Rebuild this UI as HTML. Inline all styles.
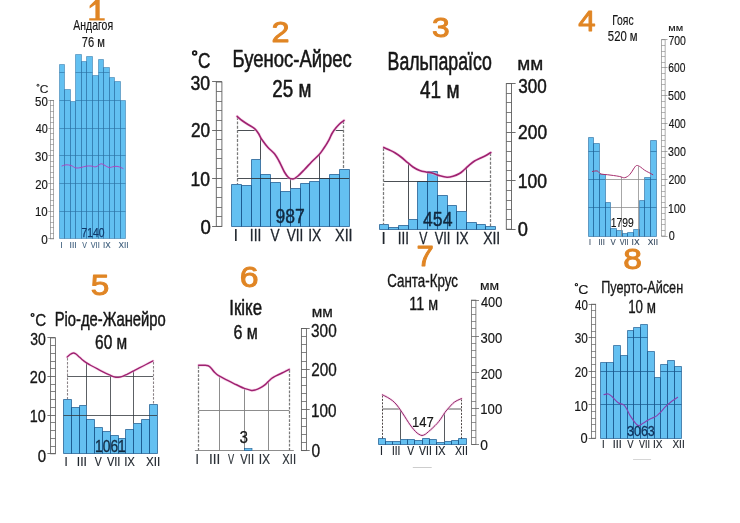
<!DOCTYPE html>
<html><head><meta charset="utf-8"><title>Climate diagrams</title>
<style>
html,body{margin:0;padding:0;background:#ffffff;}
body{width:740px;height:523px;overflow:hidden;font-family:"Liberation Sans",sans-serif;}
svg{display:block;font-family:"Liberation Sans",sans-serif;will-change:transform;}
</style></head><body>
<svg width="740" height="523" viewBox="0 0 740 523">
<rect width="740" height="523" fill="#ffffff"/>
<polygon points="59.5,238.5 59.5,64.5 64.5,64.5 64.5,89.5 70.5,89.5 70.5,101.5 75.5,101.5 75.5,54.5 81.5,54.5 81.5,61.5 86.5,61.5 86.5,56.5 92.5,56.5 92.5,75.5 98.5,75.5 98.5,59.5 103.5,59.5 103.5,67.5 109.5,67.5 109.5,77.5 114.5,77.5 114.5,81.5 120.5,81.5 120.5,100.5 125.5,100.5 125.5,238.5" fill="#62c0f1"/>
<path d="M59.5,238.5 V64.5 H64.5 V238.5 M64.5,238.5 V89.5 H70.5 V238.5 M70.5,238.5 V101.5 H75.5 V238.5 M75.5,238.5 V54.5 H81.5 V238.5 M81.5,238.5 V61.5 H86.5 V238.5 M86.5,238.5 V56.5 H92.5 V238.5 M92.5,238.5 V75.5 H98.5 V238.5 M98.5,238.5 V59.5 H103.5 V238.5 M103.5,238.5 V67.5 H109.5 V238.5 M109.5,238.5 V77.5 H114.5 V238.5 M114.5,238.5 V81.5 H120.5 V238.5 M120.5,238.5 V100.5 H125.5 V238.5 M59.5,238.5 H125.5" fill="none" stroke="#2a6fa3" stroke-width="0.5"/>
<line x1="59.5" y1="211.5" x2="64.5" y2="211.5" stroke="#2a6fa3" stroke-width="0.6"/>
<line x1="64.5" y1="211.5" x2="70.5" y2="211.5" stroke="#2a6fa3" stroke-width="0.6"/>
<line x1="70.5" y1="211.5" x2="75.5" y2="211.5" stroke="#2a6fa3" stroke-width="0.6"/>
<line x1="75.5" y1="211.5" x2="81.5" y2="211.5" stroke="#2a6fa3" stroke-width="0.6"/>
<line x1="81.5" y1="211.5" x2="86.5" y2="211.5" stroke="#2a6fa3" stroke-width="0.6"/>
<line x1="86.5" y1="211.5" x2="92.5" y2="211.5" stroke="#2a6fa3" stroke-width="0.6"/>
<line x1="92.5" y1="211.5" x2="98.5" y2="211.5" stroke="#2a6fa3" stroke-width="0.6"/>
<line x1="98.5" y1="211.5" x2="103.5" y2="211.5" stroke="#2a6fa3" stroke-width="0.6"/>
<line x1="103.5" y1="211.5" x2="109.5" y2="211.5" stroke="#2a6fa3" stroke-width="0.6"/>
<line x1="109.5" y1="211.5" x2="114.5" y2="211.5" stroke="#2a6fa3" stroke-width="0.6"/>
<line x1="114.5" y1="211.5" x2="120.5" y2="211.5" stroke="#2a6fa3" stroke-width="0.6"/>
<line x1="120.5" y1="211.5" x2="125.5" y2="211.5" stroke="#2a6fa3" stroke-width="0.6"/>
<line x1="59.5" y1="183.5" x2="64.5" y2="183.5" stroke="#2a6fa3" stroke-width="0.6"/>
<line x1="64.5" y1="183.5" x2="70.5" y2="183.5" stroke="#2a6fa3" stroke-width="0.6"/>
<line x1="70.5" y1="183.5" x2="75.5" y2="183.5" stroke="#2a6fa3" stroke-width="0.6"/>
<line x1="75.5" y1="183.5" x2="81.5" y2="183.5" stroke="#2a6fa3" stroke-width="0.6"/>
<line x1="81.5" y1="183.5" x2="86.5" y2="183.5" stroke="#2a6fa3" stroke-width="0.6"/>
<line x1="86.5" y1="183.5" x2="92.5" y2="183.5" stroke="#2a6fa3" stroke-width="0.6"/>
<line x1="92.5" y1="183.5" x2="98.5" y2="183.5" stroke="#2a6fa3" stroke-width="0.6"/>
<line x1="98.5" y1="183.5" x2="103.5" y2="183.5" stroke="#2a6fa3" stroke-width="0.6"/>
<line x1="103.5" y1="183.5" x2="109.5" y2="183.5" stroke="#2a6fa3" stroke-width="0.6"/>
<line x1="109.5" y1="183.5" x2="114.5" y2="183.5" stroke="#2a6fa3" stroke-width="0.6"/>
<line x1="114.5" y1="183.5" x2="120.5" y2="183.5" stroke="#2a6fa3" stroke-width="0.6"/>
<line x1="120.5" y1="183.5" x2="125.5" y2="183.5" stroke="#2a6fa3" stroke-width="0.6"/>
<line x1="59.5" y1="155.5" x2="64.5" y2="155.5" stroke="#2a6fa3" stroke-width="0.6"/>
<line x1="64.5" y1="155.5" x2="70.5" y2="155.5" stroke="#2a6fa3" stroke-width="0.6"/>
<line x1="70.5" y1="155.5" x2="75.5" y2="155.5" stroke="#2a6fa3" stroke-width="0.6"/>
<line x1="75.5" y1="155.5" x2="81.5" y2="155.5" stroke="#2a6fa3" stroke-width="0.6"/>
<line x1="81.5" y1="155.5" x2="86.5" y2="155.5" stroke="#2a6fa3" stroke-width="0.6"/>
<line x1="86.5" y1="155.5" x2="92.5" y2="155.5" stroke="#2a6fa3" stroke-width="0.6"/>
<line x1="92.5" y1="155.5" x2="98.5" y2="155.5" stroke="#2a6fa3" stroke-width="0.6"/>
<line x1="98.5" y1="155.5" x2="103.5" y2="155.5" stroke="#2a6fa3" stroke-width="0.6"/>
<line x1="103.5" y1="155.5" x2="109.5" y2="155.5" stroke="#2a6fa3" stroke-width="0.6"/>
<line x1="109.5" y1="155.5" x2="114.5" y2="155.5" stroke="#2a6fa3" stroke-width="0.6"/>
<line x1="114.5" y1="155.5" x2="120.5" y2="155.5" stroke="#2a6fa3" stroke-width="0.6"/>
<line x1="120.5" y1="155.5" x2="125.5" y2="155.5" stroke="#2a6fa3" stroke-width="0.6"/>
<line x1="59.5" y1="128.5" x2="64.5" y2="128.5" stroke="#2a6fa3" stroke-width="0.6"/>
<line x1="64.5" y1="128.5" x2="70.5" y2="128.5" stroke="#2a6fa3" stroke-width="0.6"/>
<line x1="70.5" y1="128.5" x2="75.5" y2="128.5" stroke="#2a6fa3" stroke-width="0.6"/>
<line x1="75.5" y1="128.5" x2="81.5" y2="128.5" stroke="#2a6fa3" stroke-width="0.6"/>
<line x1="81.5" y1="128.5" x2="86.5" y2="128.5" stroke="#2a6fa3" stroke-width="0.6"/>
<line x1="86.5" y1="128.5" x2="92.5" y2="128.5" stroke="#2a6fa3" stroke-width="0.6"/>
<line x1="92.5" y1="128.5" x2="98.5" y2="128.5" stroke="#2a6fa3" stroke-width="0.6"/>
<line x1="98.5" y1="128.5" x2="103.5" y2="128.5" stroke="#2a6fa3" stroke-width="0.6"/>
<line x1="103.5" y1="128.5" x2="109.5" y2="128.5" stroke="#2a6fa3" stroke-width="0.6"/>
<line x1="109.5" y1="128.5" x2="114.5" y2="128.5" stroke="#2a6fa3" stroke-width="0.6"/>
<line x1="114.5" y1="128.5" x2="120.5" y2="128.5" stroke="#2a6fa3" stroke-width="0.6"/>
<line x1="120.5" y1="128.5" x2="125.5" y2="128.5" stroke="#2a6fa3" stroke-width="0.6"/>
<line x1="59.5" y1="100.5" x2="64.5" y2="100.5" stroke="#2a6fa3" stroke-width="0.6"/>
<line x1="64.5" y1="100.5" x2="70.5" y2="100.5" stroke="#2a6fa3" stroke-width="0.6"/>
<line x1="75.5" y1="100.5" x2="81.5" y2="100.5" stroke="#2a6fa3" stroke-width="0.6"/>
<line x1="81.5" y1="100.5" x2="86.5" y2="100.5" stroke="#2a6fa3" stroke-width="0.6"/>
<line x1="86.5" y1="100.5" x2="92.5" y2="100.5" stroke="#2a6fa3" stroke-width="0.6"/>
<line x1="92.5" y1="100.5" x2="98.5" y2="100.5" stroke="#2a6fa3" stroke-width="0.6"/>
<line x1="98.5" y1="100.5" x2="103.5" y2="100.5" stroke="#2a6fa3" stroke-width="0.6"/>
<line x1="103.5" y1="100.5" x2="109.5" y2="100.5" stroke="#2a6fa3" stroke-width="0.6"/>
<line x1="109.5" y1="100.5" x2="114.5" y2="100.5" stroke="#2a6fa3" stroke-width="0.6"/>
<line x1="114.5" y1="100.5" x2="120.5" y2="100.5" stroke="#2a6fa3" stroke-width="0.6"/>
<line x1="59.5" y1="72.5" x2="64.5" y2="72.5" stroke="#2a6fa3" stroke-width="0.6"/>
<line x1="75.5" y1="72.5" x2="81.5" y2="72.5" stroke="#2a6fa3" stroke-width="0.6"/>
<line x1="81.5" y1="72.5" x2="86.5" y2="72.5" stroke="#2a6fa3" stroke-width="0.6"/>
<line x1="86.5" y1="72.5" x2="92.5" y2="72.5" stroke="#2a6fa3" stroke-width="0.6"/>
<line x1="98.5" y1="72.5" x2="103.5" y2="72.5" stroke="#2a6fa3" stroke-width="0.6"/>
<line x1="103.5" y1="72.5" x2="109.5" y2="72.5" stroke="#2a6fa3" stroke-width="0.6"/>
<rect x="50.3" y="100.4" width="3.4" height="138.5" fill="#fff" stroke="#777" stroke-width="0.6"/>
<line x1="48.3" y1="100.5" x2="53.7" y2="100.5" stroke="#777" stroke-width="0.6"/>
<line x1="50.3" y1="105.5" x2="53.7" y2="105.5" stroke="#777" stroke-width="0.54"/>
<line x1="50.3" y1="111.5" x2="53.7" y2="111.5" stroke="#777" stroke-width="0.54"/>
<line x1="50.3" y1="117.5" x2="53.7" y2="117.5" stroke="#777" stroke-width="0.54"/>
<line x1="50.3" y1="122.5" x2="53.7" y2="122.5" stroke="#777" stroke-width="0.54"/>
<line x1="48.3" y1="128.5" x2="53.7" y2="128.5" stroke="#777" stroke-width="0.6"/>
<line x1="50.3" y1="133.5" x2="53.7" y2="133.5" stroke="#777" stroke-width="0.54"/>
<line x1="50.3" y1="139.5" x2="53.7" y2="139.5" stroke="#777" stroke-width="0.54"/>
<line x1="50.3" y1="144.5" x2="53.7" y2="144.5" stroke="#777" stroke-width="0.54"/>
<line x1="50.3" y1="150.5" x2="53.7" y2="150.5" stroke="#777" stroke-width="0.54"/>
<line x1="48.3" y1="155.5" x2="53.7" y2="155.5" stroke="#777" stroke-width="0.6"/>
<line x1="50.3" y1="161.5" x2="53.7" y2="161.5" stroke="#777" stroke-width="0.54"/>
<line x1="50.3" y1="166.5" x2="53.7" y2="166.5" stroke="#777" stroke-width="0.54"/>
<line x1="50.3" y1="172.5" x2="53.7" y2="172.5" stroke="#777" stroke-width="0.54"/>
<line x1="50.3" y1="177.5" x2="53.7" y2="177.5" stroke="#777" stroke-width="0.54"/>
<line x1="48.3" y1="183.5" x2="53.7" y2="183.5" stroke="#777" stroke-width="0.6"/>
<line x1="50.3" y1="189.5" x2="53.7" y2="189.5" stroke="#777" stroke-width="0.54"/>
<line x1="50.3" y1="194.5" x2="53.7" y2="194.5" stroke="#777" stroke-width="0.54"/>
<line x1="50.3" y1="200.5" x2="53.7" y2="200.5" stroke="#777" stroke-width="0.54"/>
<line x1="50.3" y1="205.5" x2="53.7" y2="205.5" stroke="#777" stroke-width="0.54"/>
<line x1="48.3" y1="211.5" x2="53.7" y2="211.5" stroke="#777" stroke-width="0.6"/>
<line x1="50.3" y1="216.5" x2="53.7" y2="216.5" stroke="#777" stroke-width="0.54"/>
<line x1="50.3" y1="222.5" x2="53.7" y2="222.5" stroke="#777" stroke-width="0.54"/>
<line x1="50.3" y1="227.5" x2="53.7" y2="227.5" stroke="#777" stroke-width="0.54"/>
<line x1="50.3" y1="233.5" x2="53.7" y2="233.5" stroke="#777" stroke-width="0.54"/>
<line x1="48.3" y1="238.5" x2="53.7" y2="238.5" stroke="#777" stroke-width="0.6"/>
<circle cx="37.98" cy="85.25" r="1.00" fill="none" stroke="#161616" stroke-width="0.94"/>
<path d="M62.0,166.0 C62.7,165.8 64.5,164.9 66.0,164.8 C67.5,164.7 69.3,165.0 71.0,165.5 C72.7,166.0 74.3,167.7 76.0,168.0 C77.7,168.3 79.3,167.8 81.0,167.5 C82.7,167.2 84.3,166.4 86.0,166.2 C87.7,165.9 89.3,165.9 91.0,166.0 C92.7,166.1 94.3,167.2 96.0,166.8 C97.7,166.4 99.5,164.0 101.0,163.8 C102.5,163.6 103.7,164.9 105.0,165.5 C106.3,166.1 107.5,167.3 109.0,167.5 C110.5,167.7 112.5,166.7 114.0,166.5 C115.5,166.3 116.5,166.2 118.0,166.5 C119.5,166.8 122.2,168.2 123.0,168.5" fill="none" stroke="#b53abc" stroke-width="0.9" stroke-linecap="round"/>
<path d="M95.4,0 H99.7 V18.2 H104.7 V20.4 H89.2 V18.2 H95.4 V4.4 L89.6,8.6 V5.8 L95.4,0 Z" fill="#e08524"/>
<polygon points="231.5,226.5 231.5,184.5 241.5,184.5 241.5,185.5 251.5,185.5 251.5,159.5 260.5,159.5 260.5,174.5 270.5,174.5 270.5,182.5 280.5,182.5 280.5,191.5 290.5,191.5 290.5,188.5 300.5,188.5 300.5,183.5 309.5,183.5 309.5,181.5 319.5,181.5 319.5,178.5 329.5,178.5 329.5,174.5 339.5,174.5 339.5,169.5 349.5,169.5 349.5,226.5" fill="#64c0f1"/>
<path d="M231.5,226.5 V184.5 H241.5 V226.5 M241.5,226.5 V185.5 H251.5 V226.5 M251.5,226.5 V159.5 H260.5 V226.5 M260.5,226.5 V174.5 H270.5 V226.5 M270.5,226.5 V182.5 H280.5 V226.5 M280.5,226.5 V191.5 H290.5 V226.5 M290.5,226.5 V188.5 H300.5 V226.5 M300.5,226.5 V183.5 H309.5 V226.5 M309.5,226.5 V181.5 H319.5 V226.5 M319.5,226.5 V178.5 H329.5 V226.5 M329.5,226.5 V174.5 H339.5 V226.5 M339.5,226.5 V169.5 H349.5 V226.5 M231.5,226.5 H349.5" fill="none" stroke="#17548a" stroke-width="0.72"/>
<line x1="237.2" y1="178.5" x2="349.2" y2="178.5" stroke="#2c3036" stroke-width="0.85"/>
<line x1="237.2" y1="130.5" x2="254.8" y2="130.5" stroke="#2c3036" stroke-width="0.85"/>
<line x1="335.6" y1="130.5" x2="344.0" y2="130.5" stroke="#2c3036" stroke-width="0.85"/>
<line x1="260.5" y1="137.1" x2="260.5" y2="159.5" stroke="#2c3036" stroke-width="0.85"/>
<line x1="290.5" y1="178.2" x2="290.5" y2="188.5" stroke="#2c3036" stroke-width="0.85"/>
<line x1="319.5" y1="154.1" x2="319.5" y2="178.5" stroke="#2c3036" stroke-width="0.85"/>
<line x1="237.5" y1="117.0" x2="237.5" y2="184.0" stroke="#7a7a7a" stroke-width="1.25" stroke-dasharray="2.9,1.5"/>
<line x1="343.5" y1="121.0" x2="343.5" y2="169.0" stroke="#7a7a7a" stroke-width="1.25" stroke-dasharray="2.9,1.5"/>
<path d="M237.2,116.4 C238.0,117.1 240.2,119.2 242.0,120.5 C243.8,121.8 245.9,123.2 248.0,124.5 C250.1,125.8 252.8,127.1 254.6,128.6 C256.4,130.1 257.3,131.6 258.5,133.5 C259.7,135.4 260.4,137.5 262.0,139.8 C263.6,142.1 265.9,145.2 268.0,147.5 C270.1,149.8 272.6,151.4 274.5,153.8 C276.4,156.2 277.9,159.0 279.5,162.0 C281.1,165.0 282.9,169.4 284.4,172.0 C285.9,174.6 287.1,176.3 288.5,177.5 C289.9,178.7 291.4,179.2 293.0,179.0 C294.6,178.8 296.1,177.6 298.0,176.0 C299.9,174.4 302.1,172.0 304.3,169.7 C306.6,167.4 309.1,164.5 311.5,162.0 C313.9,159.5 316.9,157.1 319.0,154.8 C321.1,152.5 322.3,150.5 324.0,148.0 C325.7,145.5 327.7,142.2 329.0,139.8 C330.3,137.4 330.9,135.4 332.0,133.5 C333.1,131.6 334.1,130.2 335.4,128.6 C336.6,127.0 338.1,125.4 339.5,124.0 C340.9,122.6 343.2,121.0 344.0,120.4" fill="none" stroke="#f5b8de" stroke-width="3.0" stroke-linecap="round" opacity="0.5"/>
<path d="M237.2,116.4 C238.0,117.1 240.2,119.2 242.0,120.5 C243.8,121.8 245.9,123.2 248.0,124.5 C250.1,125.8 252.8,127.1 254.6,128.6 C256.4,130.1 257.3,131.6 258.5,133.5 C259.7,135.4 260.4,137.5 262.0,139.8 C263.6,142.1 265.9,145.2 268.0,147.5 C270.1,149.8 272.6,151.4 274.5,153.8 C276.4,156.2 277.9,159.0 279.5,162.0 C281.1,165.0 282.9,169.4 284.4,172.0 C285.9,174.6 287.1,176.3 288.5,177.5 C289.9,178.7 291.4,179.2 293.0,179.0 C294.6,178.8 296.1,177.6 298.0,176.0 C299.9,174.4 302.1,172.0 304.3,169.7 C306.6,167.4 309.1,164.5 311.5,162.0 C313.9,159.5 316.9,157.1 319.0,154.8 C321.1,152.5 322.3,150.5 324.0,148.0 C325.7,145.5 327.7,142.2 329.0,139.8 C330.3,137.4 330.9,135.4 332.0,133.5 C333.1,131.6 334.1,130.2 335.4,128.6 C336.6,127.0 338.1,125.4 339.5,124.0 C340.9,122.6 343.2,121.0 344.0,120.4" fill="none" stroke="#9e2270" stroke-width="1.6" stroke-linecap="round"/>
<rect x="216.3" y="82.0" width="5.6" height="144.4" fill="#fff" stroke="#5e5e5e" stroke-width="0.9"/>
<line x1="212.1" y1="81.5" x2="221.9" y2="81.5" stroke="#5e5e5e" stroke-width="0.9"/>
<line x1="216.3" y1="91.5" x2="221.9" y2="91.5" stroke="#5e5e5e" stroke-width="0.81"/>
<line x1="216.3" y1="101.5" x2="221.9" y2="101.5" stroke="#5e5e5e" stroke-width="0.81"/>
<line x1="216.3" y1="110.5" x2="221.9" y2="110.5" stroke="#5e5e5e" stroke-width="0.81"/>
<line x1="216.3" y1="120.5" x2="221.9" y2="120.5" stroke="#5e5e5e" stroke-width="0.81"/>
<line x1="212.1" y1="130.5" x2="221.9" y2="130.5" stroke="#5e5e5e" stroke-width="0.9"/>
<line x1="216.3" y1="139.5" x2="221.9" y2="139.5" stroke="#5e5e5e" stroke-width="0.81"/>
<line x1="216.3" y1="149.5" x2="221.9" y2="149.5" stroke="#5e5e5e" stroke-width="0.81"/>
<line x1="216.3" y1="158.5" x2="221.9" y2="158.5" stroke="#5e5e5e" stroke-width="0.81"/>
<line x1="216.3" y1="168.5" x2="221.9" y2="168.5" stroke="#5e5e5e" stroke-width="0.81"/>
<line x1="212.1" y1="178.5" x2="221.9" y2="178.5" stroke="#5e5e5e" stroke-width="0.9"/>
<line x1="216.3" y1="187.5" x2="221.9" y2="187.5" stroke="#5e5e5e" stroke-width="0.81"/>
<line x1="216.3" y1="197.5" x2="221.9" y2="197.5" stroke="#5e5e5e" stroke-width="0.81"/>
<line x1="216.3" y1="207.5" x2="221.9" y2="207.5" stroke="#5e5e5e" stroke-width="0.81"/>
<line x1="216.3" y1="216.5" x2="221.9" y2="216.5" stroke="#5e5e5e" stroke-width="0.81"/>
<line x1="212.1" y1="226.5" x2="221.9" y2="226.5" stroke="#5e5e5e" stroke-width="0.9"/>
<circle cx="194.65" cy="52.97" r="1.87" fill="none" stroke="#161616" stroke-width="1.76"/>
<polygon points="379.5,229.5 379.5,224.5 388.5,224.5 388.5,227.5 398.5,227.5 398.5,225.5 408.5,225.5 408.5,219.5 417.5,219.5 417.5,181.5 427.5,181.5 427.5,171.5 437.5,171.5 437.5,195.5 447.5,195.5 447.5,205.5 456.5,205.5 456.5,211.5 466.5,211.5 466.5,222.5 476.5,222.5 476.5,224.5 485.5,224.5 485.5,226.5 495.5,226.5 495.5,229.5" fill="#64c0f1"/>
<path d="M379.5,229.5 V224.5 H388.5 V229.5 M388.5,229.5 V227.5 H398.5 V229.5 M398.5,229.5 V225.5 H408.5 V229.5 M408.5,229.5 V219.5 H417.5 V229.5 M417.5,229.5 V181.5 H427.5 V229.5 M427.5,229.5 V171.5 H437.5 V229.5 M437.5,229.5 V195.5 H447.5 V229.5 M447.5,229.5 V205.5 H456.5 V229.5 M456.5,229.5 V211.5 H466.5 V229.5 M466.5,229.5 V222.5 H476.5 V229.5 M476.5,229.5 V224.5 H485.5 V229.5 M485.5,229.5 V226.5 H495.5 V229.5 M379.5,229.5 H495.5" fill="none" stroke="#17548a" stroke-width="0.72"/>
<line x1="383.8" y1="181.5" x2="490.8" y2="181.5" stroke="#2c3036" stroke-width="0.85"/>
<line x1="408.5" y1="163.3" x2="408.5" y2="219.5" stroke="#2c3036" stroke-width="0.85"/>
<line x1="466.5" y1="167.6" x2="466.5" y2="211.5" stroke="#2c3036" stroke-width="0.85"/>
<line x1="383.5" y1="148.0" x2="383.5" y2="224.4" stroke="#7a7a7a" stroke-width="1.25" stroke-dasharray="2.9,1.5"/>
<line x1="490.5" y1="153.0" x2="490.5" y2="227.0" stroke="#7a7a7a" stroke-width="1.25" stroke-dasharray="2.9,1.5"/>
<path d="M383.8,147.4 C384.8,147.8 387.6,149.1 389.5,150.0 C391.4,150.9 393.0,151.6 394.9,152.8 C396.8,154.0 398.9,155.4 401.0,157.0 C403.1,158.6 405.3,160.6 407.3,162.3 C409.3,164.0 410.9,165.6 413.0,167.0 C415.1,168.4 417.5,169.7 419.7,170.5 C421.9,171.3 423.9,171.6 426.0,172.0 C428.1,172.4 429.9,172.4 432.2,173.0 C434.5,173.6 437.5,175.1 440.0,175.8 C442.5,176.5 444.8,177.1 447.0,177.2 C449.2,177.3 450.9,176.9 453.0,176.3 C455.1,175.7 457.6,174.6 459.5,173.5 C461.4,172.4 462.8,170.9 464.5,169.5 C466.2,168.1 467.8,166.2 469.5,164.8 C471.2,163.4 472.9,162.0 474.5,161.0 C476.1,160.0 477.6,159.4 479.4,158.6 C481.1,157.8 483.1,157.0 485.0,156.0 C486.9,155.0 489.8,153.1 490.8,152.5" fill="none" stroke="#f5b8de" stroke-width="3.0" stroke-linecap="round" opacity="0.5"/>
<path d="M383.8,147.4 C384.8,147.8 387.6,149.1 389.5,150.0 C391.4,150.9 393.0,151.6 394.9,152.8 C396.8,154.0 398.9,155.4 401.0,157.0 C403.1,158.6 405.3,160.6 407.3,162.3 C409.3,164.0 410.9,165.6 413.0,167.0 C415.1,168.4 417.5,169.7 419.7,170.5 C421.9,171.3 423.9,171.6 426.0,172.0 C428.1,172.4 429.9,172.4 432.2,173.0 C434.5,173.6 437.5,175.1 440.0,175.8 C442.5,176.5 444.8,177.1 447.0,177.2 C449.2,177.3 450.9,176.9 453.0,176.3 C455.1,175.7 457.6,174.6 459.5,173.5 C461.4,172.4 462.8,170.9 464.5,169.5 C466.2,168.1 467.8,166.2 469.5,164.8 C471.2,163.4 472.9,162.0 474.5,161.0 C476.1,160.0 477.6,159.4 479.4,158.6 C481.1,157.8 483.1,157.0 485.0,156.0 C486.9,155.0 489.8,153.1 490.8,152.5" fill="none" stroke="#9e2270" stroke-width="1.6" stroke-linecap="round"/>
<rect x="506.3" y="83.6" width="5.2" height="145.6" fill="#fff" stroke="#5e5e5e" stroke-width="0.9"/>
<line x1="506.3" y1="83.5" x2="515.6" y2="83.5" stroke="#5e5e5e" stroke-width="0.9"/>
<line x1="506.3" y1="93.5" x2="511.5" y2="93.5" stroke="#5e5e5e" stroke-width="0.81"/>
<line x1="506.3" y1="102.5" x2="511.5" y2="102.5" stroke="#5e5e5e" stroke-width="0.81"/>
<line x1="506.3" y1="112.5" x2="511.5" y2="112.5" stroke="#5e5e5e" stroke-width="0.81"/>
<line x1="506.3" y1="122.5" x2="511.5" y2="122.5" stroke="#5e5e5e" stroke-width="0.81"/>
<line x1="506.3" y1="132.5" x2="515.6" y2="132.5" stroke="#5e5e5e" stroke-width="0.9"/>
<line x1="506.3" y1="141.5" x2="511.5" y2="141.5" stroke="#5e5e5e" stroke-width="0.81"/>
<line x1="506.3" y1="151.5" x2="511.5" y2="151.5" stroke="#5e5e5e" stroke-width="0.81"/>
<line x1="506.3" y1="161.5" x2="511.5" y2="161.5" stroke="#5e5e5e" stroke-width="0.81"/>
<line x1="506.3" y1="170.5" x2="511.5" y2="170.5" stroke="#5e5e5e" stroke-width="0.81"/>
<line x1="506.3" y1="180.5" x2="515.6" y2="180.5" stroke="#5e5e5e" stroke-width="0.9"/>
<line x1="506.3" y1="190.5" x2="511.5" y2="190.5" stroke="#5e5e5e" stroke-width="0.81"/>
<line x1="506.3" y1="200.5" x2="511.5" y2="200.5" stroke="#5e5e5e" stroke-width="0.81"/>
<line x1="506.3" y1="209.5" x2="511.5" y2="209.5" stroke="#5e5e5e" stroke-width="0.81"/>
<line x1="506.3" y1="219.5" x2="511.5" y2="219.5" stroke="#5e5e5e" stroke-width="0.81"/>
<line x1="506.3" y1="229.5" x2="515.6" y2="229.5" stroke="#5e5e5e" stroke-width="0.9"/>
<polygon points="588.5,236.5 588.5,137.5 593.5,137.5 593.5,143.5 599.5,143.5 599.5,174.5 605.5,174.5 605.5,202.5 610.5,202.5 610.5,228.5 616.5,228.5 616.5,230.5 622.5,230.5 622.5,233.5 627.5,233.5 627.5,232.5 633.5,232.5 633.5,229.5 639.5,229.5 639.5,200.5 644.5,200.5 644.5,177.5 650.5,177.5 650.5,140.5 656.5,140.5 656.5,236.5" fill="#64c0f1"/>
<path d="M588.5,236.5 V137.5 H593.5 V236.5 M593.5,236.5 V143.5 H599.5 V236.5 M599.5,236.5 V174.5 H605.5 V236.5 M605.5,236.5 V202.5 H610.5 V236.5 M610.5,236.5 V228.5 H616.5 V236.5 M616.5,236.5 V230.5 H622.5 V236.5 M622.5,236.5 V233.5 H627.5 V236.5 M627.5,236.5 V232.5 H633.5 V236.5 M633.5,236.5 V229.5 H639.5 V236.5 M639.5,236.5 V200.5 H644.5 V236.5 M644.5,236.5 V177.5 H650.5 V236.5 M650.5,236.5 V140.5 H656.5 V236.5 M588.5,236.5 H656.5" fill="none" stroke="#1d5f94" stroke-width="0.55"/>
<line x1="588.5" y1="207.5" x2="593.5" y2="207.5" stroke="#1d5f94" stroke-width="0.6"/>
<line x1="593.5" y1="207.5" x2="599.5" y2="207.5" stroke="#1d5f94" stroke-width="0.6"/>
<line x1="599.5" y1="207.5" x2="605.5" y2="207.5" stroke="#1d5f94" stroke-width="0.6"/>
<line x1="605.5" y1="207.5" x2="610.5" y2="207.5" stroke="#1d5f94" stroke-width="0.6"/>
<line x1="639.5" y1="207.5" x2="644.5" y2="207.5" stroke="#1d5f94" stroke-width="0.6"/>
<line x1="644.5" y1="207.5" x2="650.5" y2="207.5" stroke="#1d5f94" stroke-width="0.6"/>
<line x1="650.5" y1="207.5" x2="656.5" y2="207.5" stroke="#1d5f94" stroke-width="0.6"/>
<line x1="588.5" y1="179.5" x2="593.5" y2="179.5" stroke="#1d5f94" stroke-width="0.6"/>
<line x1="593.5" y1="179.5" x2="599.5" y2="179.5" stroke="#1d5f94" stroke-width="0.6"/>
<line x1="599.5" y1="179.5" x2="605.5" y2="179.5" stroke="#1d5f94" stroke-width="0.6"/>
<line x1="644.5" y1="179.5" x2="650.5" y2="179.5" stroke="#1d5f94" stroke-width="0.6"/>
<line x1="650.5" y1="179.5" x2="656.5" y2="179.5" stroke="#1d5f94" stroke-width="0.6"/>
<line x1="588.5" y1="151.5" x2="593.5" y2="151.5" stroke="#1d5f94" stroke-width="0.6"/>
<line x1="593.5" y1="151.5" x2="599.5" y2="151.5" stroke="#1d5f94" stroke-width="0.6"/>
<line x1="650.5" y1="151.5" x2="656.5" y2="151.5" stroke="#1d5f94" stroke-width="0.6"/>
<line x1="610.7" y1="207.5" x2="639.1" y2="207.5" stroke="#8a8a8a" stroke-width="0.75"/>
<line x1="605.0" y1="179.5" x2="644.8" y2="179.5" stroke="#8a8a8a" stroke-width="0.75"/>
<line x1="621.5" y1="176.9" x2="621.5" y2="236.0" stroke="#8a8a8a" stroke-width="0.75"/>
<line x1="638.5" y1="166.2" x2="638.5" y2="236.0" stroke="#8a8a8a" stroke-width="0.75"/>
<path d="M592.4,171.5 C593.2,171.4 595.9,170.6 597.3,171.0 C598.7,171.4 599.3,173.4 601.0,174.0 C602.7,174.6 605.2,174.4 607.3,174.7 C609.4,174.9 611.4,175.2 613.5,175.5 C615.6,175.8 617.8,176.1 619.7,176.5 C621.6,176.9 623.0,178.0 624.7,177.7 C626.4,177.4 628.2,176.1 629.7,174.7 C631.2,173.2 632.4,170.5 633.5,169.0 C634.6,167.5 635.4,165.8 636.6,165.5 C637.8,165.2 639.2,166.2 640.5,167.0 C641.8,167.8 643.2,169.3 644.6,170.2 C646.0,171.1 647.4,171.8 648.8,172.5 C650.2,173.2 652.1,174.3 652.8,174.7" fill="none" stroke="#a8306f" stroke-width="1.0" stroke-linecap="round"/>
<rect x="661.5" y="39.8" width="3.6" height="196.2" fill="#fff" stroke="#777" stroke-width="0.6"/>
<line x1="661.5" y1="39.5" x2="667.5" y2="39.5" stroke="#777" stroke-width="0.6"/>
<line x1="661.5" y1="45.5" x2="665.1" y2="45.5" stroke="#777" stroke-width="0.54"/>
<line x1="661.5" y1="51.5" x2="665.1" y2="51.5" stroke="#777" stroke-width="0.54"/>
<line x1="661.5" y1="56.5" x2="665.1" y2="56.5" stroke="#777" stroke-width="0.54"/>
<line x1="661.5" y1="62.5" x2="665.1" y2="62.5" stroke="#777" stroke-width="0.54"/>
<line x1="661.5" y1="67.5" x2="667.5" y2="67.5" stroke="#777" stroke-width="0.6"/>
<line x1="661.5" y1="73.5" x2="665.1" y2="73.5" stroke="#777" stroke-width="0.54"/>
<line x1="661.5" y1="79.5" x2="665.1" y2="79.5" stroke="#777" stroke-width="0.54"/>
<line x1="661.5" y1="84.5" x2="665.1" y2="84.5" stroke="#777" stroke-width="0.54"/>
<line x1="661.5" y1="90.5" x2="665.1" y2="90.5" stroke="#777" stroke-width="0.54"/>
<line x1="661.5" y1="95.5" x2="667.5" y2="95.5" stroke="#777" stroke-width="0.6"/>
<line x1="661.5" y1="101.5" x2="665.1" y2="101.5" stroke="#777" stroke-width="0.54"/>
<line x1="661.5" y1="107.5" x2="665.1" y2="107.5" stroke="#777" stroke-width="0.54"/>
<line x1="661.5" y1="112.5" x2="665.1" y2="112.5" stroke="#777" stroke-width="0.54"/>
<line x1="661.5" y1="118.5" x2="665.1" y2="118.5" stroke="#777" stroke-width="0.54"/>
<line x1="661.5" y1="123.5" x2="667.5" y2="123.5" stroke="#777" stroke-width="0.6"/>
<line x1="661.5" y1="129.5" x2="665.1" y2="129.5" stroke="#777" stroke-width="0.54"/>
<line x1="661.5" y1="135.5" x2="665.1" y2="135.5" stroke="#777" stroke-width="0.54"/>
<line x1="661.5" y1="140.5" x2="665.1" y2="140.5" stroke="#777" stroke-width="0.54"/>
<line x1="661.5" y1="146.5" x2="665.1" y2="146.5" stroke="#777" stroke-width="0.54"/>
<line x1="661.5" y1="151.5" x2="667.5" y2="151.5" stroke="#777" stroke-width="0.6"/>
<line x1="661.5" y1="157.5" x2="665.1" y2="157.5" stroke="#777" stroke-width="0.54"/>
<line x1="661.5" y1="163.5" x2="665.1" y2="163.5" stroke="#777" stroke-width="0.54"/>
<line x1="661.5" y1="168.5" x2="665.1" y2="168.5" stroke="#777" stroke-width="0.54"/>
<line x1="661.5" y1="174.5" x2="665.1" y2="174.5" stroke="#777" stroke-width="0.54"/>
<line x1="661.5" y1="179.5" x2="667.5" y2="179.5" stroke="#777" stroke-width="0.6"/>
<line x1="661.5" y1="185.5" x2="665.1" y2="185.5" stroke="#777" stroke-width="0.54"/>
<line x1="661.5" y1="191.5" x2="665.1" y2="191.5" stroke="#777" stroke-width="0.54"/>
<line x1="661.5" y1="196.5" x2="665.1" y2="196.5" stroke="#777" stroke-width="0.54"/>
<line x1="661.5" y1="202.5" x2="665.1" y2="202.5" stroke="#777" stroke-width="0.54"/>
<line x1="661.5" y1="207.5" x2="667.5" y2="207.5" stroke="#777" stroke-width="0.6"/>
<line x1="661.5" y1="213.5" x2="665.1" y2="213.5" stroke="#777" stroke-width="0.54"/>
<line x1="661.5" y1="219.5" x2="665.1" y2="219.5" stroke="#777" stroke-width="0.54"/>
<line x1="661.5" y1="224.5" x2="665.1" y2="224.5" stroke="#777" stroke-width="0.54"/>
<line x1="661.5" y1="230.5" x2="665.1" y2="230.5" stroke="#777" stroke-width="0.54"/>
<line x1="661.5" y1="236.5" x2="667.5" y2="236.5" stroke="#777" stroke-width="0.6"/>
<polygon points="63.5,453.5 63.5,399.5 71.5,399.5 71.5,407.5 79.5,407.5 79.5,405.5 86.5,405.5 86.5,419.5 94.5,419.5 94.5,427.5 102.5,427.5 102.5,431.5 110.5,431.5 110.5,435.5 118.5,435.5 118.5,438.5 125.5,438.5 125.5,429.5 133.5,429.5 133.5,423.5 141.5,423.5 141.5,419.5 149.5,419.5 149.5,404.5 157.5,404.5 157.5,453.5" fill="#64c0f1"/>
<path d="M63.5,453.5 V399.5 H71.5 V453.5 M71.5,453.5 V407.5 H79.5 V453.5 M79.5,453.5 V405.5 H86.5 V453.5 M86.5,453.5 V419.5 H94.5 V453.5 M94.5,453.5 V427.5 H102.5 V453.5 M102.5,453.5 V431.5 H110.5 V453.5 M110.5,453.5 V435.5 H118.5 V453.5 M118.5,453.5 V438.5 H125.5 V453.5 M125.5,453.5 V429.5 H133.5 V453.5 M133.5,453.5 V423.5 H141.5 V453.5 M141.5,453.5 V419.5 H149.5 V453.5 M149.5,453.5 V404.5 H157.5 V453.5 M63.5,453.5 H157.5" fill="none" stroke="#17548a" stroke-width="0.7"/>
<line x1="63.5" y1="415.5" x2="157.0" y2="415.5" stroke="#33383e" stroke-width="0.8"/>
<line x1="67.2" y1="376.5" x2="153.0" y2="376.5" stroke="#33383e" stroke-width="0.8"/>
<line x1="86.5" y1="362.8" x2="86.5" y2="405.5" stroke="#33383e" stroke-width="0.8"/>
<line x1="110.5" y1="375.3" x2="110.5" y2="431.5" stroke="#33383e" stroke-width="0.8"/>
<line x1="133.5" y1="370.9" x2="133.5" y2="423.5" stroke="#33383e" stroke-width="0.8"/>
<line x1="67.5" y1="358.0" x2="67.5" y2="399.0" stroke="#8c8488" stroke-width="1.1" stroke-dasharray="2.5,1.4"/>
<line x1="153.5" y1="362.0" x2="153.5" y2="404.0" stroke="#8c8488" stroke-width="1.1" stroke-dasharray="2.5,1.4"/>
<path d="M67.2,357.0 C67.7,356.6 69.0,355.2 70.0,354.5 C71.0,353.8 72.4,353.1 73.4,353.0 C74.4,352.9 75.2,353.5 76.0,354.0 C76.8,354.5 77.4,355.3 78.4,356.2 C79.4,357.1 80.8,358.5 82.0,359.5 C83.2,360.5 84.3,361.4 85.8,362.4 C87.3,363.4 89.1,364.5 91.0,365.5 C92.9,366.5 95.0,367.6 97.0,368.6 C99.0,369.7 100.9,370.8 103.0,371.8 C105.1,372.9 107.7,374.1 109.5,374.9 C111.3,375.7 112.5,376.4 114.0,376.8 C115.5,377.2 116.8,377.4 118.2,377.3 C119.6,377.2 121.0,376.8 122.5,376.3 C124.0,375.8 125.2,375.2 126.9,374.4 C128.7,373.5 130.9,372.3 133.0,371.2 C135.1,370.1 137.1,369.0 139.3,367.9 C141.5,366.8 143.7,365.7 146.0,364.5 C148.3,363.3 151.8,361.5 153.0,360.9" fill="none" stroke="#f5b8de" stroke-width="2.75" stroke-linecap="round" opacity="0.5"/>
<path d="M67.2,357.0 C67.7,356.6 69.0,355.2 70.0,354.5 C71.0,353.8 72.4,353.1 73.4,353.0 C74.4,352.9 75.2,353.5 76.0,354.0 C76.8,354.5 77.4,355.3 78.4,356.2 C79.4,357.1 80.8,358.5 82.0,359.5 C83.2,360.5 84.3,361.4 85.8,362.4 C87.3,363.4 89.1,364.5 91.0,365.5 C92.9,366.5 95.0,367.6 97.0,368.6 C99.0,369.7 100.9,370.8 103.0,371.8 C105.1,372.9 107.7,374.1 109.5,374.9 C111.3,375.7 112.5,376.4 114.0,376.8 C115.5,377.2 116.8,377.4 118.2,377.3 C119.6,377.2 121.0,376.8 122.5,376.3 C124.0,375.8 125.2,375.2 126.9,374.4 C128.7,373.5 130.9,372.3 133.0,371.2 C135.1,370.1 137.1,369.0 139.3,367.9 C141.5,366.8 143.7,365.7 146.0,364.5 C148.3,363.3 151.8,361.5 153.0,360.9" fill="none" stroke="#9e2270" stroke-width="1.35" stroke-linecap="round"/>
<rect x="50.6" y="337.9" width="4.8" height="115.9" fill="#fff" stroke="#5e5e5e" stroke-width="0.85"/>
<line x1="47.4" y1="337.5" x2="55.4" y2="337.5" stroke="#5e5e5e" stroke-width="0.85"/>
<line x1="50.6" y1="345.5" x2="55.4" y2="345.5" stroke="#5e5e5e" stroke-width="0.765"/>
<line x1="50.6" y1="353.5" x2="55.4" y2="353.5" stroke="#5e5e5e" stroke-width="0.765"/>
<line x1="50.6" y1="361.5" x2="55.4" y2="361.5" stroke="#5e5e5e" stroke-width="0.765"/>
<line x1="50.6" y1="368.5" x2="55.4" y2="368.5" stroke="#5e5e5e" stroke-width="0.765"/>
<line x1="47.4" y1="376.5" x2="55.4" y2="376.5" stroke="#5e5e5e" stroke-width="0.85"/>
<line x1="50.6" y1="384.5" x2="55.4" y2="384.5" stroke="#5e5e5e" stroke-width="0.765"/>
<line x1="50.6" y1="391.5" x2="55.4" y2="391.5" stroke="#5e5e5e" stroke-width="0.765"/>
<line x1="50.6" y1="399.5" x2="55.4" y2="399.5" stroke="#5e5e5e" stroke-width="0.765"/>
<line x1="50.6" y1="407.5" x2="55.4" y2="407.5" stroke="#5e5e5e" stroke-width="0.765"/>
<line x1="47.4" y1="415.5" x2="55.4" y2="415.5" stroke="#5e5e5e" stroke-width="0.85"/>
<line x1="50.6" y1="422.5" x2="55.4" y2="422.5" stroke="#5e5e5e" stroke-width="0.765"/>
<line x1="50.6" y1="430.5" x2="55.4" y2="430.5" stroke="#5e5e5e" stroke-width="0.765"/>
<line x1="50.6" y1="438.5" x2="55.4" y2="438.5" stroke="#5e5e5e" stroke-width="0.765"/>
<line x1="50.6" y1="446.5" x2="55.4" y2="446.5" stroke="#5e5e5e" stroke-width="0.765"/>
<line x1="47.4" y1="453.5" x2="55.4" y2="453.5" stroke="#5e5e5e" stroke-width="0.85"/>
<circle cx="32.58" cy="314.96" r="1.41" fill="none" stroke="#161616" stroke-width="1.33"/>
<line x1="194.9" y1="450.5" x2="293.8" y2="450.5" stroke="#808080" stroke-width="0.9"/>
<line x1="198.6" y1="410.5" x2="289.4" y2="410.5" stroke="#808080" stroke-width="0.9"/>
<line x1="219.5" y1="376.2" x2="219.5" y2="450.6" stroke="#808080" stroke-width="0.9"/>
<line x1="244.5" y1="388.4" x2="244.5" y2="450.6" stroke="#808080" stroke-width="0.9"/>
<line x1="268.5" y1="381.3" x2="268.5" y2="450.6" stroke="#808080" stroke-width="0.9"/>
<line x1="198.5" y1="366.0" x2="198.5" y2="450.6" stroke="#7a7a7a" stroke-width="1.25" stroke-dasharray="2.7,1.4"/>
<line x1="289.5" y1="370.0" x2="289.5" y2="450.6" stroke="#7a7a7a" stroke-width="1.25" stroke-dasharray="2.7,1.4"/>
<rect x="244.3" y="448.6" width="7.7" height="2" fill="#64c0f1" stroke="#17548a" stroke-width="0.6"/>
<path d="M198.6,365.3 C199.5,365.3 202.4,365.2 204.0,365.3 C205.6,365.4 207.0,365.2 208.2,365.7 C209.4,366.1 209.9,366.9 211.0,368.0 C212.1,369.1 213.2,371.0 214.5,372.3 C215.8,373.6 216.7,374.5 218.6,375.7 C220.5,376.9 223.5,378.3 226.0,379.6 C228.5,380.9 231.2,382.2 233.4,383.3 C235.6,384.4 237.2,385.1 239.0,386.0 C240.8,386.9 242.2,387.7 244.3,388.4 C246.4,389.1 249.5,390.1 251.4,390.4 C253.3,390.6 254.1,390.3 255.5,389.9 C256.9,389.5 258.2,389.0 259.7,388.2 C261.2,387.4 263.1,386.3 264.5,385.2 C265.9,384.1 267.1,382.6 268.3,381.5 C269.5,380.4 270.5,379.3 271.5,378.5 C272.5,377.7 272.8,377.5 274.5,376.6 C276.2,375.7 279.6,374.2 282.0,373.0 C284.4,371.8 288.0,369.9 289.2,369.3" fill="none" stroke="#f5b8de" stroke-width="2.9" stroke-linecap="round" opacity="0.5"/>
<path d="M198.6,365.3 C199.5,365.3 202.4,365.2 204.0,365.3 C205.6,365.4 207.0,365.2 208.2,365.7 C209.4,366.1 209.9,366.9 211.0,368.0 C212.1,369.1 213.2,371.0 214.5,372.3 C215.8,373.6 216.7,374.5 218.6,375.7 C220.5,376.9 223.5,378.3 226.0,379.6 C228.5,380.9 231.2,382.2 233.4,383.3 C235.6,384.4 237.2,385.1 239.0,386.0 C240.8,386.9 242.2,387.7 244.3,388.4 C246.4,389.1 249.5,390.1 251.4,390.4 C253.3,390.6 254.1,390.3 255.5,389.9 C256.9,389.5 258.2,389.0 259.7,388.2 C261.2,387.4 263.1,386.3 264.5,385.2 C265.9,384.1 267.1,382.6 268.3,381.5 C269.5,380.4 270.5,379.3 271.5,378.5 C272.5,377.7 272.8,377.5 274.5,376.6 C276.2,375.7 279.6,374.2 282.0,373.0 C284.4,371.8 288.0,369.9 289.2,369.3" fill="none" stroke="#9e2270" stroke-width="1.5" stroke-linecap="round"/>
<rect x="301.4" y="328.5" width="5.0" height="122.1" fill="#fff" stroke="#5e5e5e" stroke-width="0.85"/>
<line x1="301.4" y1="328.5" x2="309.7" y2="328.5" stroke="#5e5e5e" stroke-width="0.85"/>
<line x1="301.4" y1="336.5" x2="306.4" y2="336.5" stroke="#5e5e5e" stroke-width="0.765"/>
<line x1="301.4" y1="344.5" x2="306.4" y2="344.5" stroke="#5e5e5e" stroke-width="0.765"/>
<line x1="301.4" y1="352.5" x2="306.4" y2="352.5" stroke="#5e5e5e" stroke-width="0.765"/>
<line x1="301.4" y1="361.5" x2="306.4" y2="361.5" stroke="#5e5e5e" stroke-width="0.765"/>
<line x1="301.4" y1="369.5" x2="309.7" y2="369.5" stroke="#5e5e5e" stroke-width="0.85"/>
<line x1="301.4" y1="377.5" x2="306.4" y2="377.5" stroke="#5e5e5e" stroke-width="0.765"/>
<line x1="301.4" y1="385.5" x2="306.4" y2="385.5" stroke="#5e5e5e" stroke-width="0.765"/>
<line x1="301.4" y1="393.5" x2="306.4" y2="393.5" stroke="#5e5e5e" stroke-width="0.765"/>
<line x1="301.4" y1="401.5" x2="306.4" y2="401.5" stroke="#5e5e5e" stroke-width="0.765"/>
<line x1="301.4" y1="409.5" x2="309.7" y2="409.5" stroke="#5e5e5e" stroke-width="0.85"/>
<line x1="301.4" y1="418.5" x2="306.4" y2="418.5" stroke="#5e5e5e" stroke-width="0.765"/>
<line x1="301.4" y1="426.5" x2="306.4" y2="426.5" stroke="#5e5e5e" stroke-width="0.765"/>
<line x1="301.4" y1="434.5" x2="306.4" y2="434.5" stroke="#5e5e5e" stroke-width="0.765"/>
<line x1="301.4" y1="442.5" x2="306.4" y2="442.5" stroke="#5e5e5e" stroke-width="0.765"/>
<line x1="301.4" y1="450.5" x2="309.7" y2="450.5" stroke="#5e5e5e" stroke-width="0.85"/>
<polygon points="378.5,444.5 378.5,438.5 385.5,438.5 385.5,441.5 392.5,441.5 392.5,441.5 400.5,441.5 400.5,439.5 407.5,439.5 407.5,439.5 414.5,439.5 414.5,440.5 422.5,440.5 422.5,438.5 429.5,438.5 429.5,439.5 436.5,439.5 436.5,442.5 444.5,442.5 444.5,441.5 451.5,441.5 451.5,440.5 458.5,440.5 458.5,438.5 466.5,438.5 466.5,444.5" fill="#64c0f1"/>
<path d="M378.5,444.5 V438.5 H385.5 V444.5 M385.5,444.5 V441.5 H392.5 V444.5 M392.5,444.5 V441.5 H400.5 V444.5 M400.5,444.5 V439.5 H407.5 V444.5 M407.5,444.5 V439.5 H414.5 V444.5 M414.5,444.5 V440.5 H422.5 V444.5 M422.5,444.5 V438.5 H429.5 V444.5 M429.5,444.5 V439.5 H436.5 V444.5 M436.5,444.5 V442.5 H444.5 V444.5 M444.5,444.5 V441.5 H451.5 V444.5 M451.5,444.5 V440.5 H458.5 V444.5 M458.5,444.5 V438.5 H466.5 V444.5 M378.5,444.5 H466.5" fill="none" stroke="#17548a" stroke-width="0.7"/>
<line x1="382.4" y1="409.0" x2="399.6" y2="409.0" stroke="#4a4a4a" stroke-width="0.9"/>
<line x1="447.8" y1="409.0" x2="461.5" y2="409.0" stroke="#4a4a4a" stroke-width="0.9"/>
<line x1="400.5" y1="410.1" x2="400.5" y2="439.5" stroke="#2c3036" stroke-width="0.8"/>
<line x1="444.5" y1="413.1" x2="444.5" y2="441.5" stroke="#2c3036" stroke-width="0.8"/>
<line x1="382.5" y1="395.5" x2="382.5" y2="438.8" stroke="#3a3232" stroke-width="0.9" stroke-dasharray="2,1.4"/>
<line x1="461.5" y1="399.3" x2="461.5" y2="438.8" stroke="#3a3232" stroke-width="0.9" stroke-dasharray="2,1.4"/>
<path d="M382.4,394.8 C383.2,395.2 385.8,396.4 387.5,397.4 C389.2,398.4 391.1,399.5 392.7,400.8 C394.2,402.1 395.5,403.4 396.8,405.0 C398.1,406.6 399.2,408.2 400.5,410.1 C401.8,412.0 403.2,414.2 404.5,416.2 C405.8,418.2 407.1,420.4 408.4,422.3 C409.6,424.2 410.8,425.8 412.0,427.4 C413.2,428.9 414.5,430.5 415.6,431.6 C416.7,432.7 417.7,433.6 418.8,434.2 C419.9,434.8 420.9,435.5 422.0,435.5 C423.1,435.5 424.2,434.9 425.3,434.3 C426.4,433.7 427.2,432.7 428.5,431.6 C429.8,430.5 431.4,429.2 432.8,427.8 C434.2,426.4 435.8,424.9 437.1,423.5 C438.4,422.1 439.4,420.7 440.5,419.2 C441.6,417.7 442.7,415.8 443.6,414.4 C444.5,413.0 445.2,412.1 446.0,411.0 C446.8,409.9 447.7,409.0 448.6,408.0 C449.5,407.0 450.4,406.0 451.3,405.0 C452.2,404.0 453.2,403.0 454.3,402.2 C455.4,401.4 456.6,400.8 457.8,400.2 C459.0,399.6 460.9,398.9 461.5,398.6" fill="none" stroke="#f5b8de" stroke-width="2.4" stroke-linecap="round" opacity="0.5"/>
<path d="M382.4,394.8 C383.2,395.2 385.8,396.4 387.5,397.4 C389.2,398.4 391.1,399.5 392.7,400.8 C394.2,402.1 395.5,403.4 396.8,405.0 C398.1,406.6 399.2,408.2 400.5,410.1 C401.8,412.0 403.2,414.2 404.5,416.2 C405.8,418.2 407.1,420.4 408.4,422.3 C409.6,424.2 410.8,425.8 412.0,427.4 C413.2,428.9 414.5,430.5 415.6,431.6 C416.7,432.7 417.7,433.6 418.8,434.2 C419.9,434.8 420.9,435.5 422.0,435.5 C423.1,435.5 424.2,434.9 425.3,434.3 C426.4,433.7 427.2,432.7 428.5,431.6 C429.8,430.5 431.4,429.2 432.8,427.8 C434.2,426.4 435.8,424.9 437.1,423.5 C438.4,422.1 439.4,420.7 440.5,419.2 C441.6,417.7 442.7,415.8 443.6,414.4 C444.5,413.0 445.2,412.1 446.0,411.0 C446.8,409.9 447.7,409.0 448.6,408.0 C449.5,407.0 450.4,406.0 451.3,405.0 C452.2,404.0 453.2,403.0 454.3,402.2 C455.4,401.4 456.6,400.8 457.8,400.2 C459.0,399.6 460.9,398.9 461.5,398.6" fill="none" stroke="#8f2468" stroke-width="1.0" stroke-linecap="round"/>
<rect x="471.6" y="300.1" width="4.3" height="144.4" fill="#fff" stroke="#5e5e5e" stroke-width="0.75"/>
<line x1="471.6" y1="300.5" x2="479.0" y2="300.5" stroke="#5e5e5e" stroke-width="0.75"/>
<line x1="471.6" y1="307.5" x2="475.9" y2="307.5" stroke="#5e5e5e" stroke-width="0.675"/>
<line x1="471.6" y1="314.5" x2="475.9" y2="314.5" stroke="#5e5e5e" stroke-width="0.675"/>
<line x1="471.6" y1="321.5" x2="475.9" y2="321.5" stroke="#5e5e5e" stroke-width="0.675"/>
<line x1="471.6" y1="328.5" x2="475.9" y2="328.5" stroke="#5e5e5e" stroke-width="0.675"/>
<line x1="471.6" y1="336.5" x2="479.0" y2="336.5" stroke="#5e5e5e" stroke-width="0.75"/>
<line x1="471.6" y1="343.5" x2="475.9" y2="343.5" stroke="#5e5e5e" stroke-width="0.675"/>
<line x1="471.6" y1="350.5" x2="475.9" y2="350.5" stroke="#5e5e5e" stroke-width="0.675"/>
<line x1="471.6" y1="357.5" x2="475.9" y2="357.5" stroke="#5e5e5e" stroke-width="0.675"/>
<line x1="471.6" y1="365.5" x2="475.9" y2="365.5" stroke="#5e5e5e" stroke-width="0.675"/>
<line x1="471.6" y1="372.5" x2="479.0" y2="372.5" stroke="#5e5e5e" stroke-width="0.75"/>
<line x1="471.6" y1="379.5" x2="475.9" y2="379.5" stroke="#5e5e5e" stroke-width="0.675"/>
<line x1="471.6" y1="386.5" x2="475.9" y2="386.5" stroke="#5e5e5e" stroke-width="0.675"/>
<line x1="471.6" y1="393.5" x2="475.9" y2="393.5" stroke="#5e5e5e" stroke-width="0.675"/>
<line x1="471.6" y1="401.5" x2="475.9" y2="401.5" stroke="#5e5e5e" stroke-width="0.675"/>
<line x1="471.6" y1="408.5" x2="479.0" y2="408.5" stroke="#5e5e5e" stroke-width="0.75"/>
<line x1="471.6" y1="415.5" x2="475.9" y2="415.5" stroke="#5e5e5e" stroke-width="0.675"/>
<line x1="471.6" y1="422.5" x2="475.9" y2="422.5" stroke="#5e5e5e" stroke-width="0.675"/>
<line x1="471.6" y1="430.5" x2="475.9" y2="430.5" stroke="#5e5e5e" stroke-width="0.675"/>
<line x1="471.6" y1="437.5" x2="475.9" y2="437.5" stroke="#5e5e5e" stroke-width="0.675"/>
<line x1="471.6" y1="444.5" x2="479.0" y2="444.5" stroke="#5e5e5e" stroke-width="0.75"/>
<line x1="412.8" y1="467.5" x2="431.7" y2="467.5" stroke="#cdcdcd" stroke-width="1"/>
<polygon points="600.5,438.5 600.5,362.5 606.5,362.5 606.5,362.5 613.5,362.5 613.5,345.5 620.5,345.5 620.5,355.5 627.5,355.5 627.5,330.5 633.5,330.5 633.5,327.5 640.5,327.5 640.5,324.5 647.5,324.5 647.5,351.5 654.5,351.5 654.5,377.5 660.5,377.5 660.5,364.5 667.5,364.5 667.5,360.5 674.5,360.5 674.5,366.5 681.5,366.5 681.5,438.5" fill="#64c0f1"/>
<path d="M600.5,438.5 V362.5 H606.5 V438.5 M606.5,438.5 V362.5 H613.5 V438.5 M613.5,438.5 V345.5 H620.5 V438.5 M620.5,438.5 V355.5 H627.5 V438.5 M627.5,438.5 V330.5 H633.5 V438.5 M633.5,438.5 V327.5 H640.5 V438.5 M640.5,438.5 V324.5 H647.5 V438.5 M647.5,438.5 V351.5 H654.5 V438.5 M654.5,438.5 V377.5 H660.5 V438.5 M660.5,438.5 V364.5 H667.5 V438.5 M667.5,438.5 V360.5 H674.5 V438.5 M674.5,438.5 V366.5 H681.5 V438.5 M600.5,438.5 H681.5" fill="none" stroke="#17548a" stroke-width="0.65"/>
<line x1="600.5" y1="404.5" x2="606.5" y2="404.5" stroke="#17548a" stroke-width="0.7"/>
<line x1="606.5" y1="404.5" x2="613.5" y2="404.5" stroke="#17548a" stroke-width="0.7"/>
<line x1="613.5" y1="404.5" x2="620.5" y2="404.5" stroke="#17548a" stroke-width="0.7"/>
<line x1="620.5" y1="404.5" x2="627.5" y2="404.5" stroke="#17548a" stroke-width="0.7"/>
<line x1="627.5" y1="404.5" x2="633.5" y2="404.5" stroke="#17548a" stroke-width="0.7"/>
<line x1="633.5" y1="404.5" x2="640.5" y2="404.5" stroke="#17548a" stroke-width="0.7"/>
<line x1="640.5" y1="404.5" x2="647.5" y2="404.5" stroke="#17548a" stroke-width="0.7"/>
<line x1="647.5" y1="404.5" x2="654.5" y2="404.5" stroke="#17548a" stroke-width="0.7"/>
<line x1="654.5" y1="404.5" x2="660.5" y2="404.5" stroke="#17548a" stroke-width="0.7"/>
<line x1="660.5" y1="404.5" x2="667.5" y2="404.5" stroke="#17548a" stroke-width="0.7"/>
<line x1="667.5" y1="404.5" x2="674.5" y2="404.5" stroke="#17548a" stroke-width="0.7"/>
<line x1="674.5" y1="404.5" x2="681.5" y2="404.5" stroke="#17548a" stroke-width="0.7"/>
<line x1="600.5" y1="371.5" x2="606.5" y2="371.5" stroke="#17548a" stroke-width="0.7"/>
<line x1="606.5" y1="371.5" x2="613.5" y2="371.5" stroke="#17548a" stroke-width="0.7"/>
<line x1="613.5" y1="371.5" x2="620.5" y2="371.5" stroke="#17548a" stroke-width="0.7"/>
<line x1="620.5" y1="371.5" x2="627.5" y2="371.5" stroke="#17548a" stroke-width="0.7"/>
<line x1="627.5" y1="371.5" x2="633.5" y2="371.5" stroke="#17548a" stroke-width="0.7"/>
<line x1="633.5" y1="371.5" x2="640.5" y2="371.5" stroke="#17548a" stroke-width="0.7"/>
<line x1="640.5" y1="371.5" x2="647.5" y2="371.5" stroke="#17548a" stroke-width="0.7"/>
<line x1="647.5" y1="371.5" x2="654.5" y2="371.5" stroke="#17548a" stroke-width="0.7"/>
<line x1="660.5" y1="371.5" x2="667.5" y2="371.5" stroke="#17548a" stroke-width="0.7"/>
<line x1="667.5" y1="371.5" x2="674.5" y2="371.5" stroke="#17548a" stroke-width="0.7"/>
<line x1="674.5" y1="371.5" x2="681.5" y2="371.5" stroke="#17548a" stroke-width="0.7"/>
<line x1="627.5" y1="337.5" x2="633.5" y2="337.5" stroke="#17548a" stroke-width="0.7"/>
<line x1="633.5" y1="337.5" x2="640.5" y2="337.5" stroke="#17548a" stroke-width="0.7"/>
<line x1="640.5" y1="337.5" x2="647.5" y2="337.5" stroke="#17548a" stroke-width="0.7"/>
<path d="M604.0,394.6 C604.7,394.5 606.9,393.6 608.4,394.0 C609.9,394.4 611.1,395.9 612.7,397.3 C614.3,398.8 616.4,401.4 618.2,402.7 C620.0,404.0 622.2,403.8 623.7,404.9 C625.2,406.0 625.9,407.7 627.0,409.5 C628.1,411.3 628.8,413.5 630.3,415.9 C631.8,418.2 634.4,422.0 635.8,423.6 C637.2,425.2 637.7,425.7 638.9,425.6 C640.1,425.6 641.5,424.2 643.0,423.3 C644.5,422.4 646.4,421.2 647.9,420.3 C649.4,419.4 650.5,418.9 652.0,418.2 C653.5,417.5 655.2,417.0 656.7,415.9 C658.2,414.8 659.5,413.3 661.0,411.8 C662.5,410.3 663.6,408.5 665.5,406.7 C667.4,404.9 670.1,402.6 672.1,401.0 C674.1,399.4 676.7,397.9 677.6,397.3" fill="none" stroke="#8640b0" stroke-width="1.1" stroke-linecap="round"/>
<rect x="591.5" y="304.2" width="4.2" height="134.0" fill="#fff" stroke="#5e5e5e" stroke-width="0.75"/>
<line x1="588.6" y1="304.5" x2="595.7" y2="304.5" stroke="#5e5e5e" stroke-width="0.75"/>
<line x1="591.5" y1="310.5" x2="595.7" y2="310.5" stroke="#5e5e5e" stroke-width="0.675"/>
<line x1="591.5" y1="317.5" x2="595.7" y2="317.5" stroke="#5e5e5e" stroke-width="0.675"/>
<line x1="591.5" y1="324.5" x2="595.7" y2="324.5" stroke="#5e5e5e" stroke-width="0.675"/>
<line x1="591.5" y1="331.5" x2="595.7" y2="331.5" stroke="#5e5e5e" stroke-width="0.675"/>
<line x1="588.6" y1="337.5" x2="595.7" y2="337.5" stroke="#5e5e5e" stroke-width="0.75"/>
<line x1="591.5" y1="344.5" x2="595.7" y2="344.5" stroke="#5e5e5e" stroke-width="0.675"/>
<line x1="591.5" y1="351.5" x2="595.7" y2="351.5" stroke="#5e5e5e" stroke-width="0.675"/>
<line x1="591.5" y1="357.5" x2="595.7" y2="357.5" stroke="#5e5e5e" stroke-width="0.675"/>
<line x1="591.5" y1="364.5" x2="595.7" y2="364.5" stroke="#5e5e5e" stroke-width="0.675"/>
<line x1="588.6" y1="371.5" x2="595.7" y2="371.5" stroke="#5e5e5e" stroke-width="0.75"/>
<line x1="591.5" y1="377.5" x2="595.7" y2="377.5" stroke="#5e5e5e" stroke-width="0.675"/>
<line x1="591.5" y1="384.5" x2="595.7" y2="384.5" stroke="#5e5e5e" stroke-width="0.675"/>
<line x1="591.5" y1="391.5" x2="595.7" y2="391.5" stroke="#5e5e5e" stroke-width="0.675"/>
<line x1="591.5" y1="398.5" x2="595.7" y2="398.5" stroke="#5e5e5e" stroke-width="0.675"/>
<line x1="588.6" y1="404.5" x2="595.7" y2="404.5" stroke="#5e5e5e" stroke-width="0.75"/>
<line x1="591.5" y1="411.5" x2="595.7" y2="411.5" stroke="#5e5e5e" stroke-width="0.675"/>
<line x1="591.5" y1="418.5" x2="595.7" y2="418.5" stroke="#5e5e5e" stroke-width="0.675"/>
<line x1="591.5" y1="424.5" x2="595.7" y2="424.5" stroke="#5e5e5e" stroke-width="0.675"/>
<line x1="591.5" y1="431.5" x2="595.7" y2="431.5" stroke="#5e5e5e" stroke-width="0.675"/>
<line x1="588.6" y1="438.5" x2="595.7" y2="438.5" stroke="#5e5e5e" stroke-width="0.75"/>
<circle cx="576.40" cy="284.66" r="1.16" fill="none" stroke="#161616" stroke-width="1.09"/>
<line x1="633.1" y1="459.5" x2="651.1" y2="459.5" stroke="#d6d6d6" stroke-width="1"/>
<g>
<text x="41.32" y="243.50" font-size="12.20" fill="#161616" font-weight="normal" textLength="6.51" lengthAdjust="spacingAndGlyphs" stroke="#161616" stroke-width="0.15" stroke-linejoin="round">0</text>
<text x="34.93" y="216.00" font-size="12.20" fill="#161616" font-weight="normal" textLength="12.78" lengthAdjust="spacingAndGlyphs" stroke="#161616" stroke-width="0.15" stroke-linejoin="round">10</text>
<text x="35.29" y="188.50" font-size="12.20" fill="#161616" font-weight="normal" textLength="12.62" lengthAdjust="spacingAndGlyphs" stroke="#161616" stroke-width="0.15" stroke-linejoin="round">20</text>
<text x="35.07" y="160.90" font-size="12.20" fill="#161616" font-weight="normal" textLength="12.76" lengthAdjust="spacingAndGlyphs" stroke="#161616" stroke-width="0.15" stroke-linejoin="round">30</text>
<text x="35.77" y="132.90" font-size="12.20" fill="#161616" font-weight="normal" textLength="12.05" lengthAdjust="spacingAndGlyphs" stroke="#161616" stroke-width="0.15" stroke-linejoin="round">40</text>
<text x="35.03" y="105.80" font-size="12.20" fill="#161616" font-weight="normal" textLength="12.76" lengthAdjust="spacingAndGlyphs" stroke="#161616" stroke-width="0.15" stroke-linejoin="round">50</text>
<text x="39.74" y="93.10" font-size="11.80" fill="#161616" font-weight="normal" textLength="8.69" lengthAdjust="spacingAndGlyphs" stroke="#161616" stroke-width="0.14" stroke-linejoin="round">C</text>
<text x="81.50" y="237.00" font-size="11.90" fill="#113a6c" font-weight="normal" textLength="22.85" lengthAdjust="spacingAndGlyphs" stroke="#113a6c" stroke-width="0.25" stroke-linejoin="round">7140</text>
<text x="61.60" y="247.70" font-size="9.00" fill="#40607e" stroke="#40607e" stroke-width="0.00" text-anchor="middle">I</text>
<text x="69.60" y="247.70" font-size="9.00" fill="#40607e" font-weight="normal" textLength="7.06" lengthAdjust="spacingAndGlyphs" stroke="#40607e" stroke-width="0.11" stroke-linejoin="round">III</text>
<text x="82.13" y="247.70" font-size="9.00" fill="#40607e" font-weight="normal" textLength="4.64" lengthAdjust="spacingAndGlyphs" stroke="#40607e" stroke-width="0.11" stroke-linejoin="round">V</text>
<text x="90.75" y="247.70" font-size="9.00" fill="#40607e" font-weight="normal" textLength="8.91" lengthAdjust="spacingAndGlyphs" stroke="#40607e" stroke-width="0.11" stroke-linejoin="round">VII</text>
<text x="102.93" y="247.70" font-size="9.00" fill="#40607e" font-weight="normal" textLength="7.74" lengthAdjust="spacingAndGlyphs" stroke="#40607e" stroke-width="0.11" stroke-linejoin="round">IX</text>
<text x="118.50" y="247.70" font-size="9.00" fill="#40607e" font-weight="normal" textLength="10.13" lengthAdjust="spacingAndGlyphs" stroke="#40607e" stroke-width="0.11" stroke-linejoin="round">XII</text>
<text x="73.30" y="30.40" font-size="14.20" fill="#161616" font-weight="normal" textLength="39.83" lengthAdjust="spacingAndGlyphs" stroke="#161616" stroke-width="0.17" stroke-linejoin="round">Андагоя</text>
<text x="81.75" y="46.80" font-size="14.30" fill="#161616" font-weight="normal" textLength="23.10" lengthAdjust="spacingAndGlyphs" stroke="#161616" stroke-width="0.17" stroke-linejoin="round">76 м</text>
<text x="200.44" y="234.30" font-size="20.40" fill="#161616" font-weight="normal" textLength="10.36" lengthAdjust="spacingAndGlyphs" stroke="#161616" stroke-width="0.49" stroke-linejoin="round">0</text>
<text x="190.54" y="186.00" font-size="20.80" fill="#161616" font-weight="normal" textLength="19.48" lengthAdjust="spacingAndGlyphs" stroke="#161616" stroke-width="0.5" stroke-linejoin="round">10</text>
<text x="190.95" y="137.20" font-size="20.80" fill="#161616" font-weight="normal" textLength="19.14" lengthAdjust="spacingAndGlyphs" stroke="#161616" stroke-width="0.5" stroke-linejoin="round">20</text>
<text x="190.56" y="90.20" font-size="20.80" fill="#161616" font-weight="normal" textLength="19.59" lengthAdjust="spacingAndGlyphs" stroke="#161616" stroke-width="0.5" stroke-linejoin="round">30</text>
<text x="198.07" y="67.60" font-size="22.00" fill="#161616" font-weight="normal" textLength="12.42" lengthAdjust="spacingAndGlyphs" stroke="#161616" stroke-width="0.53" stroke-linejoin="round">C</text>
<text x="275.39" y="223.00" font-size="20.90" fill="#12283f" font-weight="normal" textLength="29.38" lengthAdjust="spacingAndGlyphs" stroke="#12283f" stroke-width="0.42" stroke-linejoin="round">987</text>
<text x="235.70" y="241.30" font-size="16.70" fill="#20262e" stroke="#20262e" stroke-width="0.10" text-anchor="middle">I</text>
<text x="249.82" y="241.30" font-size="16.70" fill="#20262e" font-weight="normal" textLength="11.48" lengthAdjust="spacingAndGlyphs" stroke="#20262e" stroke-width="0.32" stroke-linejoin="round">III</text>
<text x="270.62" y="241.30" font-size="16.70" fill="#20262e" font-weight="normal" textLength="9.08" lengthAdjust="spacingAndGlyphs" stroke="#20262e" stroke-width="0.32" stroke-linejoin="round">V</text>
<text x="286.80" y="241.30" font-size="16.70" fill="#20262e" font-weight="normal" textLength="16.60" lengthAdjust="spacingAndGlyphs" stroke="#20262e" stroke-width="0.32" stroke-linejoin="round">VII</text>
<text x="308.20" y="241.30" font-size="16.70" fill="#20262e" font-weight="normal" textLength="13.12" lengthAdjust="spacingAndGlyphs" stroke="#20262e" stroke-width="0.32" stroke-linejoin="round">IX</text>
<text x="335.10" y="241.30" font-size="16.70" fill="#20262e" font-weight="normal" textLength="17.48" lengthAdjust="spacingAndGlyphs" stroke="#20262e" stroke-width="0.32" stroke-linejoin="round">XII</text>
<text x="271.54" y="41.75" font-size="28.92" fill="#e08524" font-weight="normal" textLength="18.02" lengthAdjust="spacingAndGlyphs" stroke="#e08524" stroke-width="0.95" stroke-linejoin="round">2</text>
<text x="232.45" y="67.00" font-size="24.60" fill="#161616" font-weight="normal" textLength="119.41" lengthAdjust="spacingAndGlyphs" stroke="#161616" stroke-width="0.59" stroke-linejoin="round">Буенос-Айрес</text>
<text x="272.35" y="96.50" font-size="24.50" fill="#161616" font-weight="normal" textLength="39.03" lengthAdjust="spacingAndGlyphs" stroke="#161616" stroke-width="0.59" stroke-linejoin="round">25 м</text>
<text x="517.66" y="236.30" font-size="20.20" fill="#161616" font-weight="normal" textLength="10.18" lengthAdjust="spacingAndGlyphs" stroke="#161616" stroke-width="0.48" stroke-linejoin="round">0</text>
<text x="517.68" y="188.00" font-size="20.20" fill="#161616" font-weight="normal" textLength="29.37" lengthAdjust="spacingAndGlyphs" stroke="#161616" stroke-width="0.48" stroke-linejoin="round">100</text>
<text x="518.11" y="139.30" font-size="20.20" fill="#161616" font-weight="normal" textLength="28.98" lengthAdjust="spacingAndGlyphs" stroke="#161616" stroke-width="0.48" stroke-linejoin="round">200</text>
<text x="518.21" y="92.60" font-size="20.20" fill="#161616" font-weight="normal" textLength="28.52" lengthAdjust="spacingAndGlyphs" stroke="#161616" stroke-width="0.48" stroke-linejoin="round">300</text>
<text x="517.31" y="70.00" font-size="18.90" fill="#161616" font-weight="normal" textLength="25.93" lengthAdjust="spacingAndGlyphs" stroke="#161616" stroke-width="0.36" stroke-linejoin="round">мм</text>
<text x="423.01" y="225.50" font-size="20.50" fill="#12283f" font-weight="normal" textLength="29.59" lengthAdjust="spacingAndGlyphs" stroke="#12283f" stroke-width="0.42" stroke-linejoin="round">454</text>
<text x="383.50" y="243.60" font-size="17.00" fill="#20262e" stroke="#20262e" stroke-width="0.10" text-anchor="middle">I</text>
<text x="397.78" y="243.60" font-size="17.00" fill="#20262e" font-weight="normal" textLength="11.14" lengthAdjust="spacingAndGlyphs" stroke="#20262e" stroke-width="0.32" stroke-linejoin="round">III</text>
<text x="419.29" y="243.60" font-size="17.00" fill="#20262e" font-weight="normal" textLength="8.14" lengthAdjust="spacingAndGlyphs" stroke="#20262e" stroke-width="0.32" stroke-linejoin="round">V</text>
<text x="434.63" y="243.60" font-size="17.00" fill="#20262e" font-weight="normal" textLength="15.73" lengthAdjust="spacingAndGlyphs" stroke="#20262e" stroke-width="0.32" stroke-linejoin="round">VII</text>
<text x="455.85" y="243.60" font-size="17.00" fill="#20262e" font-weight="normal" textLength="12.75" lengthAdjust="spacingAndGlyphs" stroke="#20262e" stroke-width="0.32" stroke-linejoin="round">IX</text>
<text x="483.17" y="243.60" font-size="17.00" fill="#20262e" font-weight="normal" textLength="17.11" lengthAdjust="spacingAndGlyphs" stroke="#20262e" stroke-width="0.32" stroke-linejoin="round">XII</text>
<text x="432.14" y="36.71" font-size="28.37" fill="#e08524" font-weight="normal" textLength="17.66" lengthAdjust="spacingAndGlyphs" stroke="#e08524" stroke-width="0.95" stroke-linejoin="round">3</text>
<text x="387.56" y="69.90" font-size="25.00" fill="#161616" font-weight="normal" textLength="104.34" lengthAdjust="spacingAndGlyphs" stroke="#161616" stroke-width="0.6" stroke-linejoin="round">Вальпараїсо</text>
<text x="420.01" y="98.20" font-size="24.00" fill="#161616" font-weight="normal" textLength="39.44" lengthAdjust="spacingAndGlyphs" stroke="#161616" stroke-width="0.58" stroke-linejoin="round">41 м</text>
<text x="668.81" y="239.80" font-size="11.90" fill="#161616" font-weight="normal" textLength="6.01" lengthAdjust="spacingAndGlyphs" stroke="#161616" stroke-width="0.14" stroke-linejoin="round">0</text>
<text x="668.08" y="212.50" font-size="11.90" fill="#161616" font-weight="normal" textLength="17.49" lengthAdjust="spacingAndGlyphs" stroke="#161616" stroke-width="0.14" stroke-linejoin="round">100</text>
<text x="668.40" y="184.30" font-size="11.90" fill="#161616" font-weight="normal" textLength="17.48" lengthAdjust="spacingAndGlyphs" stroke="#161616" stroke-width="0.14" stroke-linejoin="round">200</text>
<text x="668.10" y="156.20" font-size="11.90" fill="#161616" font-weight="normal" textLength="17.71" lengthAdjust="spacingAndGlyphs" stroke="#161616" stroke-width="0.14" stroke-linejoin="round">300</text>
<text x="668.79" y="128.00" font-size="11.90" fill="#161616" font-weight="normal" textLength="16.96" lengthAdjust="spacingAndGlyphs" stroke="#161616" stroke-width="0.14" stroke-linejoin="round">400</text>
<text x="668.03" y="100.10" font-size="11.90" fill="#161616" font-weight="normal" textLength="17.74" lengthAdjust="spacingAndGlyphs" stroke="#161616" stroke-width="0.14" stroke-linejoin="round">500</text>
<text x="668.36" y="71.80" font-size="11.90" fill="#161616" font-weight="normal" textLength="17.07" lengthAdjust="spacingAndGlyphs" stroke="#161616" stroke-width="0.14" stroke-linejoin="round">600</text>
<text x="668.41" y="44.60" font-size="11.90" fill="#161616" font-weight="normal" textLength="17.49" lengthAdjust="spacingAndGlyphs" stroke="#161616" stroke-width="0.14" stroke-linejoin="round">700</text>
<text x="668.29" y="31.00" font-size="9.90" fill="#161616" font-weight="normal" textLength="14.88" lengthAdjust="spacingAndGlyphs" stroke="#161616" stroke-width="0.12" stroke-linejoin="round">мм</text>
<text x="610.81" y="227.00" font-size="12.00" fill="#161616" font-weight="normal" textLength="22.89" lengthAdjust="spacingAndGlyphs" stroke="#161616" stroke-width="0.14" stroke-linejoin="round">1799</text>
<text x="590.00" y="244.90" font-size="8.80" fill="#364a60" stroke="#364a60" stroke-width="0.00" text-anchor="middle">I</text>
<text x="598.41" y="244.90" font-size="8.80" fill="#364a60" font-weight="normal" textLength="6.39" lengthAdjust="spacingAndGlyphs" stroke="#364a60" stroke-width="0.11" stroke-linejoin="round">III</text>
<text x="610.42" y="244.90" font-size="8.80" fill="#364a60" font-weight="normal" textLength="5.24" lengthAdjust="spacingAndGlyphs" stroke="#364a60" stroke-width="0.11" stroke-linejoin="round">V</text>
<text x="619.66" y="244.90" font-size="8.80" fill="#364a60" font-weight="normal" textLength="9.00" lengthAdjust="spacingAndGlyphs" stroke="#364a60" stroke-width="0.11" stroke-linejoin="round">VII</text>
<text x="631.52" y="244.90" font-size="8.80" fill="#364a60" font-weight="normal" textLength="8.05" lengthAdjust="spacingAndGlyphs" stroke="#364a60" stroke-width="0.11" stroke-linejoin="round">IX</text>
<text x="647.67" y="244.90" font-size="8.80" fill="#364a60" font-weight="normal" textLength="10.37" lengthAdjust="spacingAndGlyphs" stroke="#364a60" stroke-width="0.11" stroke-linejoin="round">XII</text>
<text x="578.18" y="31.25" font-size="29.37" fill="#e08524" font-weight="normal" textLength="17.34" lengthAdjust="spacingAndGlyphs" stroke="#e08524" stroke-width="0.95" stroke-linejoin="round">4</text>
<text x="612.14" y="24.50" font-size="14.10" fill="#161616" font-weight="normal" textLength="21.46" lengthAdjust="spacingAndGlyphs" stroke="#161616" stroke-width="0.17" stroke-linejoin="round">Гояс</text>
<text x="607.83" y="41.10" font-size="14.10" fill="#161616" font-weight="normal" textLength="29.83" lengthAdjust="spacingAndGlyphs" stroke="#161616" stroke-width="0.17" stroke-linejoin="round">520 м</text>
<text x="37.69" y="461.60" font-size="16.60" fill="#161616" font-weight="normal" textLength="8.33" lengthAdjust="spacingAndGlyphs" stroke="#161616" stroke-width="0.32" stroke-linejoin="round">0</text>
<text x="29.84" y="422.20" font-size="16.60" fill="#161616" font-weight="normal" textLength="16.02" lengthAdjust="spacingAndGlyphs" stroke="#161616" stroke-width="0.32" stroke-linejoin="round">10</text>
<text x="29.86" y="383.30" font-size="16.60" fill="#161616" font-weight="normal" textLength="16.12" lengthAdjust="spacingAndGlyphs" stroke="#161616" stroke-width="0.32" stroke-linejoin="round">20</text>
<text x="30.32" y="345.00" font-size="16.60" fill="#161616" font-weight="normal" textLength="15.58" lengthAdjust="spacingAndGlyphs" stroke="#161616" stroke-width="0.32" stroke-linejoin="round">30</text>
<text x="35.15" y="326.00" font-size="16.60" fill="#161616" font-weight="normal" textLength="10.94" lengthAdjust="spacingAndGlyphs" stroke="#161616" stroke-width="0.32" stroke-linejoin="round">C</text>
<text x="95.10" y="451.70" font-size="15.70" fill="#12283f" font-weight="normal" textLength="30.66" lengthAdjust="spacingAndGlyphs" stroke="#12283f" stroke-width="0.3" stroke-linejoin="round">1061</text>
<text x="66.20" y="465.60" font-size="13.20" fill="#20262e" stroke="#20262e" stroke-width="0.00" text-anchor="middle">I</text>
<text x="76.86" y="465.60" font-size="13.20" fill="#20262e" font-weight="normal" textLength="10.12" lengthAdjust="spacingAndGlyphs" stroke="#20262e" stroke-width="0.16" stroke-linejoin="round">III</text>
<text x="94.81" y="465.60" font-size="13.20" fill="#20262e" font-weight="normal" textLength="7.00" lengthAdjust="spacingAndGlyphs" stroke="#20262e" stroke-width="0.16" stroke-linejoin="round">V</text>
<text x="106.89" y="465.60" font-size="13.20" fill="#20262e" font-weight="normal" textLength="13.44" lengthAdjust="spacingAndGlyphs" stroke="#20262e" stroke-width="0.16" stroke-linejoin="round">VII</text>
<text x="124.20" y="465.60" font-size="13.20" fill="#20262e" font-weight="normal" textLength="10.80" lengthAdjust="spacingAndGlyphs" stroke="#20262e" stroke-width="0.16" stroke-linejoin="round">IX</text>
<text x="145.98" y="465.60" font-size="13.20" fill="#20262e" font-weight="normal" textLength="14.24" lengthAdjust="spacingAndGlyphs" stroke="#20262e" stroke-width="0.16" stroke-linejoin="round">XII</text>
<text x="90.72" y="295.20" font-size="29.36" fill="#e08524" font-weight="normal" textLength="18.57" lengthAdjust="spacingAndGlyphs" stroke="#e08524" stroke-width="0.95" stroke-linejoin="round">5</text>
<text x="54.67" y="325.80" font-size="19.90" fill="#161616" font-weight="normal" textLength="111.12" lengthAdjust="spacingAndGlyphs" stroke="#161616" stroke-width="0.48" stroke-linejoin="round">Ріо-де-Жанейро</text>
<text x="95.07" y="348.70" font-size="19.70" fill="#161616" font-weight="normal" textLength="32.06" lengthAdjust="spacingAndGlyphs" stroke="#161616" stroke-width="0.47" stroke-linejoin="round">60 м</text>
<text x="311.39" y="457.40" font-size="17.50" fill="#161616" font-weight="normal" textLength="8.65" lengthAdjust="spacingAndGlyphs" stroke="#161616" stroke-width="0.33" stroke-linejoin="round">0</text>
<text x="311.05" y="416.80" font-size="17.50" fill="#161616" font-weight="normal" textLength="25.51" lengthAdjust="spacingAndGlyphs" stroke="#161616" stroke-width="0.33" stroke-linejoin="round">100</text>
<text x="311.30" y="376.10" font-size="17.50" fill="#161616" font-weight="normal" textLength="25.47" lengthAdjust="spacingAndGlyphs" stroke="#161616" stroke-width="0.33" stroke-linejoin="round">200</text>
<text x="311.09" y="337.00" font-size="17.50" fill="#161616" font-weight="normal" textLength="25.59" lengthAdjust="spacingAndGlyphs" stroke="#161616" stroke-width="0.33" stroke-linejoin="round">300</text>
<text x="311.70" y="317.20" font-size="15.20" fill="#161616" font-weight="normal" textLength="21.08" lengthAdjust="spacingAndGlyphs" stroke="#161616" stroke-width="0.29" stroke-linejoin="round">мм</text>
<text x="239.54" y="442.70" font-size="16.40" fill="#161616" font-weight="normal" textLength="8.48" lengthAdjust="spacingAndGlyphs" stroke="#161616" stroke-width="0.25" stroke-linejoin="round">3</text>
<text x="197.20" y="463.80" font-size="13.80" fill="#2c3238" stroke="#2c3238" stroke-width="0.00" text-anchor="middle">I</text>
<text x="209.12" y="463.80" font-size="13.80" fill="#2c3238" font-weight="normal" textLength="11.21" lengthAdjust="spacingAndGlyphs" stroke="#2c3238" stroke-width="0.17" stroke-linejoin="round">III</text>
<text x="227.88" y="463.80" font-size="13.80" fill="#2c3238" font-weight="normal" textLength="6.17" lengthAdjust="spacingAndGlyphs" stroke="#2c3238" stroke-width="0.17" stroke-linejoin="round">V</text>
<text x="240.33" y="463.80" font-size="13.80" fill="#2c3238" font-weight="normal" textLength="13.72" lengthAdjust="spacingAndGlyphs" stroke="#2c3238" stroke-width="0.17" stroke-linejoin="round">VII</text>
<text x="258.70" y="463.80" font-size="13.80" fill="#2c3238" font-weight="normal" textLength="11.53" lengthAdjust="spacingAndGlyphs" stroke="#2c3238" stroke-width="0.17" stroke-linejoin="round">IX</text>
<text x="282.36" y="463.80" font-size="13.80" fill="#2c3238" font-weight="normal" textLength="13.71" lengthAdjust="spacingAndGlyphs" stroke="#2c3238" stroke-width="0.17" stroke-linejoin="round">XII</text>
<text x="239.82" y="287.20" font-size="28.79" fill="#e08524" font-weight="normal" textLength="18.80" lengthAdjust="spacingAndGlyphs" stroke="#e08524" stroke-width="0.95" stroke-linejoin="round">6</text>
<text x="229.22" y="315.30" font-size="21.40" fill="#161616" font-weight="normal" textLength="32.83" lengthAdjust="spacingAndGlyphs" stroke="#161616" stroke-width="0.51" stroke-linejoin="round">Ікіке</text>
<text x="233.41" y="339.30" font-size="21.00" fill="#161616" font-weight="normal" textLength="24.40" lengthAdjust="spacingAndGlyphs" stroke="#161616" stroke-width="0.5" stroke-linejoin="round">6 м</text>
<text x="480.37" y="450.00" font-size="14.80" fill="#161616" font-weight="normal" textLength="7.66" lengthAdjust="spacingAndGlyphs" stroke="#161616" stroke-width="0.18" stroke-linejoin="round">0</text>
<text x="480.28" y="414.40" font-size="14.80" fill="#161616" font-weight="normal" textLength="21.94" lengthAdjust="spacingAndGlyphs" stroke="#161616" stroke-width="0.18" stroke-linejoin="round">100</text>
<text x="480.65" y="378.70" font-size="14.80" fill="#161616" font-weight="normal" textLength="21.56" lengthAdjust="spacingAndGlyphs" stroke="#161616" stroke-width="0.18" stroke-linejoin="round">200</text>
<text x="480.56" y="342.60" font-size="14.80" fill="#161616" font-weight="normal" textLength="21.68" lengthAdjust="spacingAndGlyphs" stroke="#161616" stroke-width="0.18" stroke-linejoin="round">300</text>
<text x="480.91" y="307.10" font-size="14.80" fill="#161616" font-weight="normal" textLength="21.40" lengthAdjust="spacingAndGlyphs" stroke="#161616" stroke-width="0.18" stroke-linejoin="round">400</text>
<text x="480.00" y="290.10" font-size="13.40" fill="#161616" font-weight="normal" textLength="19.20" lengthAdjust="spacingAndGlyphs" stroke="#161616" stroke-width="0.16" stroke-linejoin="round">мм</text>
<text x="411.91" y="426.50" font-size="14.80" fill="#161616" font-weight="normal" textLength="21.88" lengthAdjust="spacingAndGlyphs" stroke="#161616" stroke-width="0.18" stroke-linejoin="round">147</text>
<text x="381.60" y="454.90" font-size="12.40" fill="#20262e" stroke="#20262e" stroke-width="0.00" text-anchor="middle">I</text>
<text x="392.01" y="454.90" font-size="12.40" fill="#20262e" font-weight="normal" textLength="8.38" lengthAdjust="spacingAndGlyphs" stroke="#20262e" stroke-width="0.15" stroke-linejoin="round">III</text>
<text x="407.32" y="454.90" font-size="12.40" fill="#20262e" font-weight="normal" textLength="6.87" lengthAdjust="spacingAndGlyphs" stroke="#20262e" stroke-width="0.15" stroke-linejoin="round">V</text>
<text x="419.12" y="454.90" font-size="12.40" fill="#20262e" font-weight="normal" textLength="12.71" lengthAdjust="spacingAndGlyphs" stroke="#20262e" stroke-width="0.15" stroke-linejoin="round">VII</text>
<text x="434.88" y="454.90" font-size="12.40" fill="#20262e" font-weight="normal" textLength="10.70" lengthAdjust="spacingAndGlyphs" stroke="#20262e" stroke-width="0.15" stroke-linejoin="round">IX</text>
<text x="454.96" y="454.90" font-size="12.40" fill="#20262e" font-weight="normal" textLength="13.00" lengthAdjust="spacingAndGlyphs" stroke="#20262e" stroke-width="0.15" stroke-linejoin="round">XII</text>
<text x="416.41" y="266.35" font-size="28.95" fill="#e08524" font-weight="normal" textLength="17.31" lengthAdjust="spacingAndGlyphs" stroke="#e08524" stroke-width="0.95" stroke-linejoin="round">7</text>
<text x="387.21" y="287.40" font-size="18.20" fill="#161616" font-weight="normal" textLength="70.84" lengthAdjust="spacingAndGlyphs" stroke="#161616" stroke-width="0.35" stroke-linejoin="round">Санта-Крус</text>
<text x="409.26" y="309.50" font-size="17.70" fill="#161616" font-weight="normal" textLength="28.74" lengthAdjust="spacingAndGlyphs" stroke="#161616" stroke-width="0.34" stroke-linejoin="round">11 м</text>
<text x="580.52" y="443.20" font-size="14.30" fill="#161616" font-weight="normal" textLength="7.15" lengthAdjust="spacingAndGlyphs" stroke="#161616" stroke-width="0.17" stroke-linejoin="round">0</text>
<text x="574.30" y="410.50" font-size="14.30" fill="#161616" font-weight="normal" textLength="13.62" lengthAdjust="spacingAndGlyphs" stroke="#161616" stroke-width="0.17" stroke-linejoin="round">10</text>
<text x="574.66" y="377.10" font-size="14.30" fill="#161616" font-weight="normal" textLength="13.08" lengthAdjust="spacingAndGlyphs" stroke="#161616" stroke-width="0.17" stroke-linejoin="round">20</text>
<text x="574.70" y="343.30" font-size="14.30" fill="#161616" font-weight="normal" textLength="13.09" lengthAdjust="spacingAndGlyphs" stroke="#161616" stroke-width="0.17" stroke-linejoin="round">30</text>
<text x="575.02" y="310.40" font-size="14.30" fill="#161616" font-weight="normal" textLength="12.80" lengthAdjust="spacingAndGlyphs" stroke="#161616" stroke-width="0.17" stroke-linejoin="round">40</text>
<text x="578.22" y="293.70" font-size="13.60" fill="#161616" font-weight="normal" textLength="10.19" lengthAdjust="spacingAndGlyphs" stroke="#161616" stroke-width="0.16" stroke-linejoin="round">C</text>
<text x="627.00" y="435.70" font-size="14.80" fill="#10315a" font-weight="normal" textLength="27.79" lengthAdjust="spacingAndGlyphs" stroke="#10315a" stroke-width="0.3" stroke-linejoin="round">3063</text>
<text x="603.20" y="448.00" font-size="11.00" fill="#20262e" stroke="#20262e" stroke-width="0.00" text-anchor="middle">I</text>
<text x="612.74" y="448.00" font-size="11.00" fill="#20262e" font-weight="normal" textLength="8.95" lengthAdjust="spacingAndGlyphs" stroke="#20262e" stroke-width="0.13" stroke-linejoin="round">III</text>
<text x="627.28" y="448.00" font-size="11.00" fill="#20262e" font-weight="normal" textLength="6.34" lengthAdjust="spacingAndGlyphs" stroke="#20262e" stroke-width="0.13" stroke-linejoin="round">V</text>
<text x="639.04" y="448.00" font-size="11.00" fill="#20262e" font-weight="normal" textLength="10.94" lengthAdjust="spacingAndGlyphs" stroke="#20262e" stroke-width="0.13" stroke-linejoin="round">VII</text>
<text x="652.99" y="448.00" font-size="11.00" fill="#20262e" font-weight="normal" textLength="9.59" lengthAdjust="spacingAndGlyphs" stroke="#20262e" stroke-width="0.13" stroke-linejoin="round">IX</text>
<text x="672.45" y="448.00" font-size="11.00" fill="#20262e" font-weight="normal" textLength="12.25" lengthAdjust="spacingAndGlyphs" stroke="#20262e" stroke-width="0.13" stroke-linejoin="round">XII</text>
<text x="623.15" y="269.40" font-size="29.08" fill="#e08524" font-weight="normal" textLength="18.72" lengthAdjust="spacingAndGlyphs" stroke="#e08524" stroke-width="0.95" stroke-linejoin="round">8</text>
<text x="601.19" y="293.20" font-size="17.40" fill="#161616" font-weight="normal" textLength="81.97" lengthAdjust="spacingAndGlyphs" stroke="#161616" stroke-width="0.33" stroke-linejoin="round">Пуерто-Айсен</text>
<text x="628.18" y="312.50" font-size="17.60" fill="#161616" font-weight="normal" textLength="27.66" lengthAdjust="spacingAndGlyphs" stroke="#161616" stroke-width="0.33" stroke-linejoin="round">10 м</text>
</g>
</svg>
</body></html>
